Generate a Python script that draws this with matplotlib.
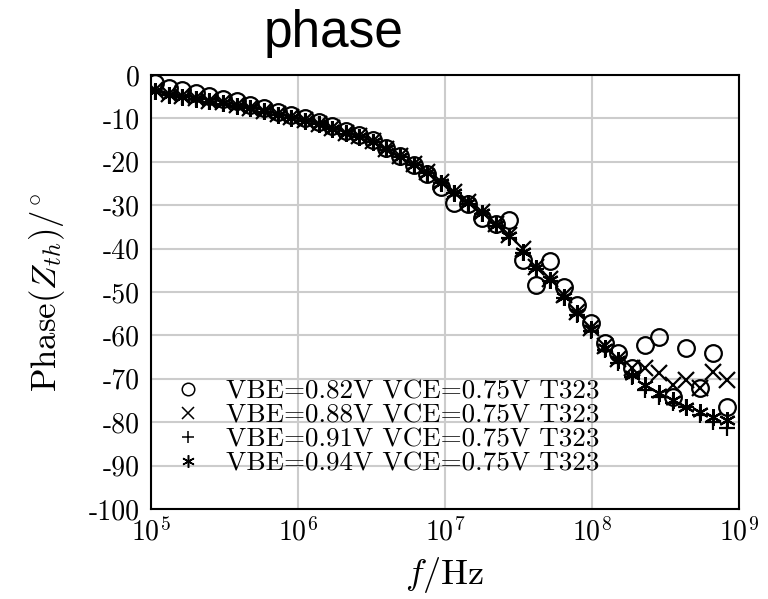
import matplotlib
matplotlib.use('Agg')
import matplotlib.pyplot as plt
from matplotlib.lines import Line2D

plt.rcParams['mathtext.fontset'] = 'cm'
plt.rcParams['font.family'] = 'cmr10'
plt.rcParams['axes.unicode_minus'] = False
plt.rcParams['axes.formatter.use_mathtext'] = True

# frequencies (Hz)
freq = [1.06e5, 1.32e5, 1.63e5, 2.02e5, 2.50e5, 3.09e5, 3.83e5, 4.74e5, 5.87e5, 7.26e5,
        8.99e5, 1.11e6, 1.38e6, 1.71e6, 2.11e6, 2.61e6, 3.24e6, 4.00e6, 4.96e6, 6.13e6,
        7.59e6, 9.40e6, 1.16e7, 1.44e7, 1.78e7, 2.21e7, 2.73e7, 3.38e7, 4.19e7, 5.18e7,
        6.41e7, 7.94e7, 9.83e7, 1.22e8, 1.51e8, 1.86e8, 2.31e8, 2.86e8, 3.54e8, 4.38e8,
        5.42e8, 6.70e8, 8.30e8]

# phase in degrees, one list per bias point
ph_082 = [-1.9, -3.0, -3.4, -4.2, -4.9, -5.5, -6.0, -6.8, -7.6, -8.5,
          -9.2, -10.0, -10.9, -11.8, -12.9, -13.8, -15.0, -16.8, -18.6, -20.8,
          -22.8, -25.8, -29.5, -29.7, -33.0, -34.3, -33.4, -42.6, -48.4, -42.8,
          -48.8, -53.0, -57.1, -61.8, -64.0, -67.5, -62.2, -60.4, -74.2, -62.9,
          -72.1, -64.1, -76.5]
ph_088 = [-3.5, -4.3, -4.8, -5.3, -5.9, -6.3, -7.0, -7.5, -8.3, -9.1,
          -9.7, -10.4, -11.2, -12.3, -13.3, -14.1, -15.3, -17.0, -18.7, -20.6,
          -22.4, -24.7, -27.0, -29.3, -31.6, -34.3, -36.8, -40.2, -44.3, -47.0,
          -50.8, -54.5, -58.2, -62.5, -65.5, -67.5, -67.5, -68.7, -71.4, -70.3,
          -72.1, -68.4, -70.3]
ph_091 = [-3.9, -4.7, -5.1, -5.6, -6.2, -6.6, -7.2, -7.7, -8.5, -9.3,
          -9.9, -10.6, -11.4, -12.5, -13.5, -14.3, -15.5, -17.2, -18.9, -20.8,
          -22.6, -25.0, -27.3, -29.8, -32.1, -34.8, -37.5, -41.1, -44.8, -47.5,
          -51.4, -55.3, -59.0, -63.4, -66.3, -69.5, -72.5, -74.3, -75.6, -76.5,
          -78.3, -80.0, -81.3]
ph_094 = [-3.8, -4.6, -5.0, -5.5, -6.1, -6.5, -7.1, -7.6, -8.4, -9.2,
          -9.8, -10.5, -11.3, -12.4, -13.4, -14.2, -15.4, -17.1, -18.8, -20.7,
          -22.5, -24.9, -27.2, -29.6, -31.9, -34.6, -37.2, -40.8, -44.5, -47.2,
          -51.1, -54.9, -58.5, -63.0, -65.7, -69.1, -71.4, -73.3, -74.9, -76.5,
          -77.6, -78.8, -79.5]

labels = ['VBE=0.82V VCE=0.75V T323', 'VBE=0.88V VCE=0.75V T323',
          'VBE=0.91V VCE=0.75V T323', 'VBE=0.94V VCE=0.75V T323']
asterisk = (6, 2, 0)
markers = ['o', 'x', '+', asterisk]
yticks = list(range(0, -101, -10))

fig = plt.figure(figsize=(7.68, 5.99), dpi=100)
ax = fig.add_axes([0.1966, 0.1503, 0.7656, 0.7245])

for ph, m in zip([ph_082, ph_088, ph_091, ph_094], markers):
    ax.plot(freq, ph, linestyle='none', marker=m, markersize=12,
            markeredgewidth=1.6, color='black', markerfacecolor='none')

ax.set_xscale('log')
ax.set_xlim(1e5, 1e9)
ax.set_ylim(-100, 0)
ax.set_yticks(yticks)
ax.set_yticklabels([str(t) for t in yticks])
ax.set_xticks([1e5, 1e6, 1e7, 1e8, 1e9])
ax.minorticks_off()
ax.tick_params(length=0, labelsize=20)
ax.tick_params(axis='y', pad=8)
ax.tick_params(axis='x', pad=6)
ax.grid(True, color='#cccccc', linewidth=1.5)
ax.set_axisbelow(True)
for s in ax.spines.values():
    s.set_linewidth(1.5)

ax.set_xlabel(r'$f/\mathrm{Hz}$', fontsize=26, labelpad=6)
ax.set_ylabel(r'$\mathrm{Phase}(Z_{th})/^{\circ}$', fontsize=25, labelpad=16)

handles = [Line2D([], [], linestyle='none', marker=m, markersize=9,
                  markeredgewidth=1.1, color='black', markerfacecolor='none')
           for m in markers]
ax.legend(handles, labels, loc='lower left', bbox_to_anchor=(0.008, 0.034),
          frameon=False, fontsize=19.5, handlelength=1.0, handletextpad=0.9,
          labelspacing=0.0, borderpad=0.2)

fig.text(334 / 768, 1 - 34 / 599, 'phase', ha='center', va='center',
         fontsize=37, family='Liberation Sans')

fig.savefig('out.png', dpi=100)
